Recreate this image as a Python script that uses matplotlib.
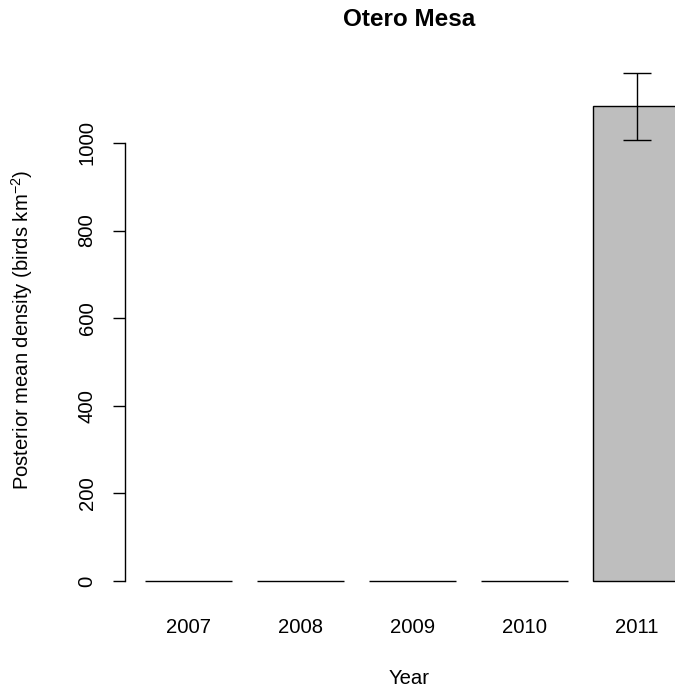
import matplotlib
matplotlib.use("Agg")
import matplotlib.pyplot as plt
import numpy as np

plt.rcParams['font.family'] = ['Liberation Sans', 'DejaVu Sans']
plt.rcParams['mathtext.fontset'] = 'custom'
plt.rcParams['mathtext.rm'] = 'Liberation Sans'
plt.rcParams['mathtext.it'] = 'Liberation Sans:italic'
plt.rcParams['mathtext.bf'] = 'Liberation Sans:bold'

years = ['2007', '2008', '2009', '2010', '2011']
density = [0, 0, 0, 0, 1084.5]
lower = [0, 0, 0, 0, 1007]
upper = [0, 0, 0, 0, 1160]
yticks = [0, 200, 400, 600, 800, 1000]

W, H, DPI = 675, 692, 100
fig = plt.figure(figsize=(W / DPI, H / DPI), dpi=DPI)
left_px, right_px, top_px, bot_px = 124.5, 693, 52.6, 601.3
ax = fig.add_axes([left_px / W, (H - bot_px) / H, (right_px - left_px) / W, (bot_px - top_px) / H])

x = np.arange(len(years))
dens = np.array(density, dtype=float)
lo = np.array(lower, dtype=float)
up = np.array(upper, dtype=float)
ax.bar(x, dens, width=0.772, color='#BEBEBE', edgecolor='black', linewidth=1.0, zorder=2)
m = up > lo
ax.errorbar(x[m], dens[m], yerr=[dens[m] - lo[m], up[m] - dens[m]], fmt='none',
            ecolor='black', elinewidth=1.0, capsize=9.9, capthick=1.0, zorder=3)

ax.set_xlim(-0.573, 4.503)
ax.set_ylim(-46.4, 1206.4)
ax.set_xticks(x)
ax.set_xticklabels(years)
ax.set_yticks(yticks)
ax.set_yticklabels([str(t) for t in yticks])
for s in ['top', 'right', 'bottom']:
    ax.spines[s].set_visible(False)
ax.spines['left'].set_bounds(0, 1000)
ax.spines['left'].set_linewidth(1.0)
ax.tick_params(axis='x', length=0, pad=12, labelsize=14.6)
ax.tick_params(axis='y', length=8.6, width=1.0, pad=11.5, labelsize=14.6, labelrotation=90)
for lab in ax.get_yticklabels():
    lab.set_verticalalignment('center')

fig.text(409 / W, (H - 19) / H, 'Otero Mesa', ha='center', va='center',
         fontsize=17.5, fontweight='bold')
fig.text(409 / W, (H - 678) / H, 'Year', ha='center', va='center', fontsize=14.6)
fig.text(22 / W, (H - 330) / H, 'Posterior mean density (birds km$^{-2}$)',
         ha='center', va='center', rotation=90, fontsize=14.6)

fig.savefig('out.png', dpi=DPI)
